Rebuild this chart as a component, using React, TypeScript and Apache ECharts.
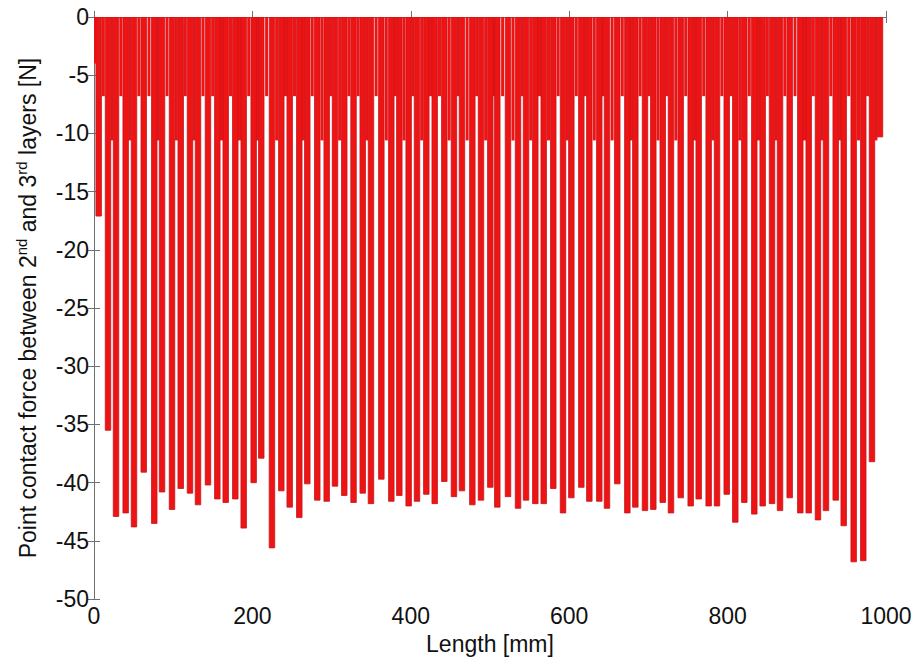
import React, { useEffect, useRef } from 'react';
import * as echarts from 'echarts';

// Main (deep) contact spikes: position along the length [mm] and force [N]
const mainX = [
  5.9, 17.7, 27.8, 40.0, 50.5, 62.8, 76.1, 85.9, 98.5, 109.5,
  121.2, 131.3, 143.9, 155.7, 166.3, 178.4, 189.0, 201.6, 211.2, 224.7,
  236.5, 247.1, 259.2, 269.3, 281.9, 293.8, 304.3, 316.0, 327.7, 339.3,
  349.7, 362.8, 375.4, 385.5, 397.3, 407.8, 419.6, 430.2, 442.3, 454.5,
  464.6, 477.7, 488.6, 500.4, 509.2, 522.7, 535.4, 545.5, 557.2, 567.8,
  579.9, 592.2, 602.7, 615.3, 625.4, 638.0, 647.7, 660.7, 673.4, 683.5,
  695.7, 706.2, 718.1, 728.5, 740.8, 753.4, 763.5, 776.1, 786.6, 798.9,
  809.7, 821.1, 833.7, 844.3, 856.1, 866.2, 878.4, 891.8, 902.4, 914.1,
  924.2, 936.5, 946.6, 959.2, 971.3, 982.3, 992.4,
];
const mainV = [
  -17.1, -35.5, -42.9, -42.6, -43.8, -39.1, -43.5, -40.8, -42.3, -40.5,
  -40.9, -41.9, -40.2, -41.4, -41.7, -41.4, -43.9, -40.0, -37.9, -45.6,
  -40.7, -42.1, -43.0, -40.1, -41.5, -41.6, -40.3, -41.1, -41.7, -40.9,
  -41.8, -39.7, -41.6, -41.1, -42.0, -41.6, -41.0, -41.8, -39.9, -41.2,
  -40.7, -41.9, -41.5, -40.4, -42.1, -41.2, -42.2, -41.5, -41.8, -41.8,
  -40.5, -42.6, -41.3, -40.4, -41.6, -41.6, -42.2, -40.1, -42.6, -42.1,
  -42.4, -42.3, -41.7, -42.6, -41.3, -42.0, -41.4, -42.0, -42.0, -41.0,
  -43.4, -41.7, -42.7, -42.0, -41.8, -42.4, -41.3, -42.6, -42.6, -43.2,
  -42.4, -41.5, -43.7, -46.8, -46.7, -38.2, -10.3,
];
// Shallow spikes lying between consecutive main spikes [N]
const gapV = [
  -6.8, -10.6, -6.8, -10.6, -6.8, -6.8, -10.6, -6.8, -10.6, -6.8,
  -10.6, -6.8, -6.8, -10.6, -6.8, -10.6, -6.8, -10.6, -6.8, -10.6,
  -6.8, -6.8, -10.6, -6.8, -10.6, -6.8, -10.6, -6.8, -6.8, -10.6,
  -6.8, -10.6, -6.8, -10.6, -6.8, -10.6, -6.8, -6.8, -10.6, -6.8,
  -10.6, -6.8, -10.6, -6.8, -6.8, -10.6, -6.8, -10.6, -6.8, -10.6,
  -6.8, -10.6, -6.8, -6.8, -10.6, -6.8, -10.6, -6.8, -10.6, -6.8,
  -6.8, -10.6, -6.8, -10.6, -6.8, -10.6, -6.8, -10.6, -6.8, -6.8,
  -10.6, -6.8, -10.6, -6.8, -10.6, -6.8, -6.8, -10.6, -6.8, -10.6,
  -6.8, -10.6, -6.8, -10.6, -6.8, -10.6,
];
// Spike at the left edge
const edgeX = [1.5];
const edgeV = [-4.0];

const xMin = 0, xMax = 1000, xStep = 200;
const yMin = -50, yMax = 0, yStep = 5;

const FONT = "'Liberation Sans', Arial, Helvetica, sans-serif";
const RED = '#ee1414';
const AXIS = '#707070';

export default function App() {
  const ref = useRef<HTMLDivElement>(null);
  useEffect(() => {
    const chart = echarts.init(ref.current!, null, { renderer: 'svg' });
    const mainData = mainX.map((x, i) => [x, mainV[i]]);
    const gapData = gapV.map((v, i) => [(mainX[i] + mainX[i + 1]) / 2, v]);
    const edgeData = edgeX.map((x, i) => [x, edgeV[i]]);

    const spike = (w: number, fill: string, stroke?: string) => (params: any, api: any) => {
      const x = api.value(0);
      const p0 = api.coord([x, 0]);
      const p1 = api.coord([x, api.value(1)]);
      return {
        type: 'rect',
        shape: { x: p0[0] - w / 2, y: p0[1], width: w, height: p1[1] - p0[1] },
        style: stroke ? { fill, stroke, lineWidth: 0.8 } : { fill },
      };
    };

    const axisCommon = {
      axisLine: { show: true, lineStyle: { color: AXIS, width: 1 } },
      axisTick: { show: true, inside: true, length: 6, lineStyle: { color: AXIS } },
      splitLine: { show: false },
    };
    const plain = (v: number) => String(v);

    chart.setOption({
      animation: false,
      backgroundColor: '#ffffff',
      grid: { left: 94, right: 35, top: 17, bottom: 58, containLabel: false },
      xAxis: [
        {
          type: 'value', min: xMin, max: xMax, interval: xStep, position: 'bottom',
          ...axisCommon,
          axisLabel: { fontSize: 23, color: '#111', fontFamily: FONT, margin: 5, formatter: plain },
          name: 'Length [mm]', nameLocation: 'middle', nameGap: 32,
          nameTextStyle: { fontSize: 23, color: '#111', fontFamily: FONT },
        },
        {
          type: 'value', min: xMin, max: xMax, interval: xStep, position: 'top',
          ...axisCommon, axisLabel: { show: false },
        },
      ],
      yAxis: [
        {
          type: 'value', min: yMin, max: yMax, interval: yStep, position: 'left',
          ...axisCommon,
          axisLabel: { fontSize: 23, color: '#111', fontFamily: FONT, margin: 5, formatter: plain },
          name: 'Point contact force between 2{sup|nd} and 3{sup|rd} layers [N]',
          nameLocation: 'middle', nameGap: 52, nameRotate: 90,
          nameTextStyle: {
            fontSize: 23, color: '#111', fontFamily: FONT, lineHeight: 28,
            rich: { sup: { fontSize: 15, fontFamily: FONT, color: '#111', verticalAlign: 'top', lineHeight: 28 } },
          },
        },
        {
          type: 'value', min: yMin, max: yMax, interval: yStep, position: 'right',
          ...axisCommon, axisLabel: { show: false },
        },
      ],
      series: [
        { type: 'custom', name: 'edge', clip: true, data: edgeData, renderItem: spike(4, RED) },
        { type: 'custom', name: 'gaps', clip: true, data: gapData, renderItem: spike(3, RED) },
        { type: 'custom', name: 'main', clip: true, data: mainData, renderItem: spike(5.5, RED, '#c41620') },
      ],
    });
    return () => chart.dispose();
  }, []);
  return <div ref={ref} style={{ position: 'fixed', left: 0, top: 0, width: 921, height: 660 }} />;
}
